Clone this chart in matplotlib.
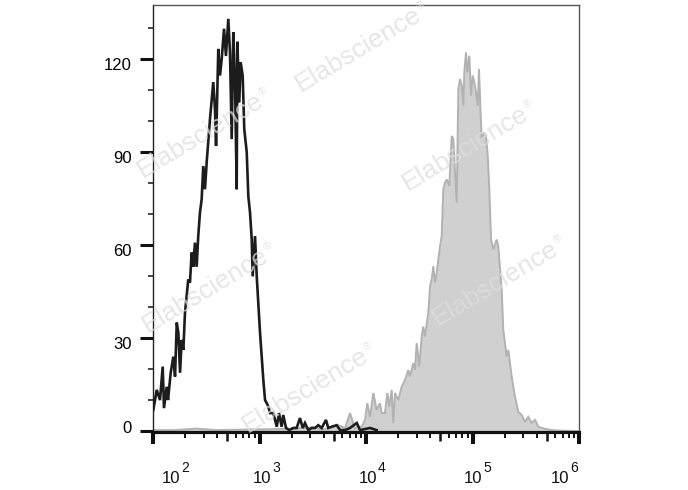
import numpy as np
import matplotlib
matplotlib.use("Agg")
import matplotlib.pyplot as plt
from matplotlib import transforms as mtransforms
from matplotlib.ticker import FixedLocator, NullFormatter

plt.rcParams['font.family'] = ['Liberation Sans', 'DejaVu Sans']

# ---------------- data (log10 intensity, event count) ----------------
black_log = [2.003, 2.035, 2.066, 2.091, 2.103, 2.129, 2.141, 2.166, 2.191, 2.207,
             2.223, 2.238, 2.254, 2.269, 2.285, 2.300, 2.331, 2.347, 2.363, 2.378,
             2.394, 2.410, 2.425, 2.441, 2.457, 2.472, 2.488, 2.504, 2.535, 2.566,
             2.582, 2.592, 2.613, 2.629, 2.645, 2.667, 2.685, 2.707, 2.723, 2.739,
             2.754, 2.770, 2.786, 2.792, 2.810, 2.823, 2.842, 2.857, 2.880, 2.895,
             2.911, 2.927, 2.936, 2.958, 2.974, 3.005, 3.036, 3.052, 3.068, 3.083,
             3.099, 3.130, 3.146, 3.162, 3.183, 3.208, 3.223, 3.249, 3.280, 3.317,
             3.349, 3.380, 3.406, 3.427, 3.458, 3.490, 3.521, 3.552, 3.584, 3.624,
             3.646, 3.678, 3.725, 3.756, 3.803, 3.850, 3.913, 3.944, 4.038, 4.100]
black_counts = [6.8, 13.3, 10.0, 20.8, 7.4, 14.3, 10.0, 18.8, 24.0, 17.6,
                35.0, 31.7, 18.8, 29.4, 26.2, 38.0, 48.9, 47.9, 57.6, 53.0,
                60.8, 53.0, 63.0, 70.5, 74.8, 85.5, 78.0, 86.7, 100.6, 112.6,
                103.9, 92.0, 123.3, 114.7, 120.0, 129.8, 121.0, 133.0, 122.2, 94.2,
                128.7, 112.6, 78.0, 125.6, 106.0, 119.0, 114.7, 97.4, 90.0, 75.8,
                70.5, 61.8, 49.9, 62.9, 50.0, 31.7, 16.5, 10.0, 9.0, 7.9,
                5.8, 5.8, 3.6, 1.4, 5.8, 1.4, 5.2, 1.0, 0.3, 1.0,
                1.0, 4.2, 1.0, 2.6, 0.3, 1.0, 1.0, 1.9, 1.0, 3.6,
                1.0, 1.4, 1.9, 0.3, 0.3, 1.0, 2.6, 0.3, 1.0, 0.3]

gray_log = [2.000, 2.200, 2.410, 2.600, 2.900, 3.100, 3.300, 3.500, 3.600, 3.737,
            3.803, 3.850, 3.897, 3.925, 3.960, 3.991, 4.012, 4.038, 4.069, 4.100,
            4.131, 4.147, 4.178, 4.200, 4.219, 4.241, 4.256, 4.272, 4.303, 4.335,
            4.366, 4.397, 4.413, 4.444, 4.460, 4.476, 4.500, 4.523, 4.538, 4.554,
            4.585, 4.601, 4.617, 4.632, 4.648, 4.664, 4.695, 4.711, 4.726, 4.742,
            4.758, 4.782, 4.805, 4.820, 4.836, 4.852, 4.867, 4.883, 4.899, 4.914,
            4.923, 4.939, 4.951, 4.970, 4.986, 5.002, 5.017, 5.033, 5.049, 5.061,
            5.077, 5.086, 5.108, 5.127, 5.143, 5.158, 5.174, 5.195, 5.227, 5.242,
            5.274, 5.289, 5.321, 5.336, 5.368, 5.399, 5.430, 5.462, 5.493, 5.524,
            5.556, 5.587, 5.618, 5.650, 5.697, 5.775, 6.000]
gray_counts = [0.3, 0.3, 0.8, 0.3, 0.5, 0.6, 0.8, 1.2, 0.5, 1.9,
               1.0, 5.8, 0.8, 1.5, 1.4, 3.6, 9.0, 4.6, 12.3, 6.8,
               9.0, 5.8, 5.8, 12.3, 7.9, 13.3, 2.6, 12.3, 10.0, 14.3,
               16.5, 19.7, 17.6, 21.9, 19.7, 28.4, 20.8, 30.5, 33.7, 30.5,
               38.2, 46.7, 48.9, 53.2, 47.9, 51.1, 59.6, 63.0, 78.0, 80.2,
               81.2, 79.0, 95.2, 94.2, 83.4, 73.7, 110.4, 113.6, 111.5, 105.0,
               115.7, 122.2, 115.7, 121.1, 108.2, 114.7, 112.5, 109.3, 105.0, 116.8,
               101.7, 94.2, 96.3, 95.2, 88.8, 78.0, 61.8, 58.6, 61.8, 59.6,
               45.6, 32.7, 24.0, 26.2, 17.6, 11.1, 6.2, 5.2, 3.0, 4.6,
               2.6, 3.6, 1.4, 1.0, 0.6, 0.2, 0.0]

y_major_ticks = [0, 30, 60, 90, 120]
y_minor_ticks = [10, 20, 40, 50, 70, 80, 100, 110, 130]
x_tick_exponents = [2, 3, 4, 5, 6]
watermark_text = "Elabscience"

# ---------------- figure ----------------
W, H = 688, 490
fig = plt.figure(figsize=(W / 100, H / 100), dpi=100)
ax = fig.add_axes([153 / W, (H - 432) / H, (579 - 153) / W, (432 - 5.5) / H])

ax.set_xscale('log')
ax.set_xlim(10 ** 2, 10 ** 6)
ax.set_ylim(-0.3, 137.3)

bx = 10 ** np.array(black_log)
gx = 10 ** np.array(gray_log)

ax.fill_between(gx, gray_counts, 0, color='#d0d0d0', lw=0, zorder=1)
ax.plot(gx, gray_counts, color='#b2b2b2', lw=1.4, zorder=2, solid_joinstyle='miter')

# watermarks (figure pixel centres)
wm_pos = [(358, 49), (200, 135), (465, 148), (205, 290), (495, 283), (305, 390)]
ang = 31
ca, sa = np.cos(np.radians(ang)), np.sin(np.radians(ang))
for (px, py) in wm_pos:
    fx, fy = px / W, 1 - py / H
    fig.text(fx, fy, watermark_text, rotation=ang, rotation_mode='anchor',
             ha='center', va='center', fontsize=19, color='#dedede', alpha=0.75,
             zorder=3)
    # registered mark
    L = 76
    rx = px + L * ca - 5 * sa
    ry = py - L * sa - 5 * ca
    fig.text(rx / W, 1 - ry / H, "\u00ae", rotation=ang, rotation_mode='anchor',
             ha='center', va='center', fontsize=8, color='#dedede', alpha=0.75,
             zorder=3)

ax.plot(bx, black_counts, color='#1c1c1c', lw=1.9, zorder=5, solid_joinstyle='miter')

# ---------------- spines ----------------
ax.spines['bottom'].set_linewidth(2.3)
ax.spines['bottom'].set_color('#111111')
ax.spines['left'].set_linewidth(1.0)
ax.spines['left'].set_color('#222222')
for s in ('top', 'right'):
    ax.spines[s].set_linewidth(1.0)
    ax.spines[s].set_color('#555555')

# ---------------- y ticks ----------------
ax.yaxis.set_major_locator(FixedLocator(y_major_ticks))
ax.yaxis.set_minor_locator(FixedLocator(y_minor_ticks))
ax.tick_params(axis='y', which='major', length=9.4, width=2.2, pad=5.8,
               labelsize=12, color='#111111')
ax.tick_params(axis='y', which='minor', length=3.8, width=1.1, color='#111111')
for lab in ax.get_yticklabels():
    txt = lab.get_text()
    dy = 4.5 if txt == '0' else -4.5
    lab.set_transform(lab.get_transform() +
                      mtransforms.ScaledTranslation(0, dy / 100, fig.dpi_scale_trans))

# ---------------- x ticks ----------------
ax.xaxis.set_major_locator(FixedLocator([10.0 ** k for k in x_tick_exponents]))
minor_pos = [m * 10.0 ** k for k in x_tick_exponents[:-1] for m in (2, 3, 4, 6, 7, 8, 9)]
ax.xaxis.set_minor_locator(FixedLocator(minor_pos))
ax.xaxis.set_major_formatter(NullFormatter())
ax.xaxis.set_minor_formatter(NullFormatter())
ax.tick_params(axis='x', which='major', length=8.6, width=2.9, color='#111111')
ax.tick_params(axis='x', which='minor', length=4.3, width=1.4, color='#111111')

sec = ax.secondary_xaxis('bottom')
sec.set_xticks([5 * 10.0 ** k for k in x_tick_exponents[:-1]])
sec.xaxis.set_minor_locator(FixedLocator([]))
sec.set_xticklabels([])
sec.tick_params(axis='x', length=6.5, width=1.8, color='#111111')
sec.spines['bottom'].set_visible(False)

# x tick labels "10" with superscript exponent
label_dx = [18, 2, 1.5, 0.5, -19]
base = mtransforms.blended_transform_factory(ax.transData, ax.transAxes)
for k, dx in zip(x_tick_exponents, label_dx):
    t1 = mtransforms.offset_copy(base, fig=fig, x=dx, y=-51, units='dots')
    ax.text(10.0 ** k, 0, "10", transform=t1, ha='center', va='baseline',
            fontsize=12, color='#111111', clip_on=False)
    t2 = mtransforms.offset_copy(base, fig=fig, x=dx + 10.5, y=-40, units='dots')
    ax.text(10.0 ** k, 0, str(k), transform=t2, ha='left', va='baseline',
            fontsize=10, color='#111111', clip_on=False)

fig.savefig("out.png", dpi=100)
